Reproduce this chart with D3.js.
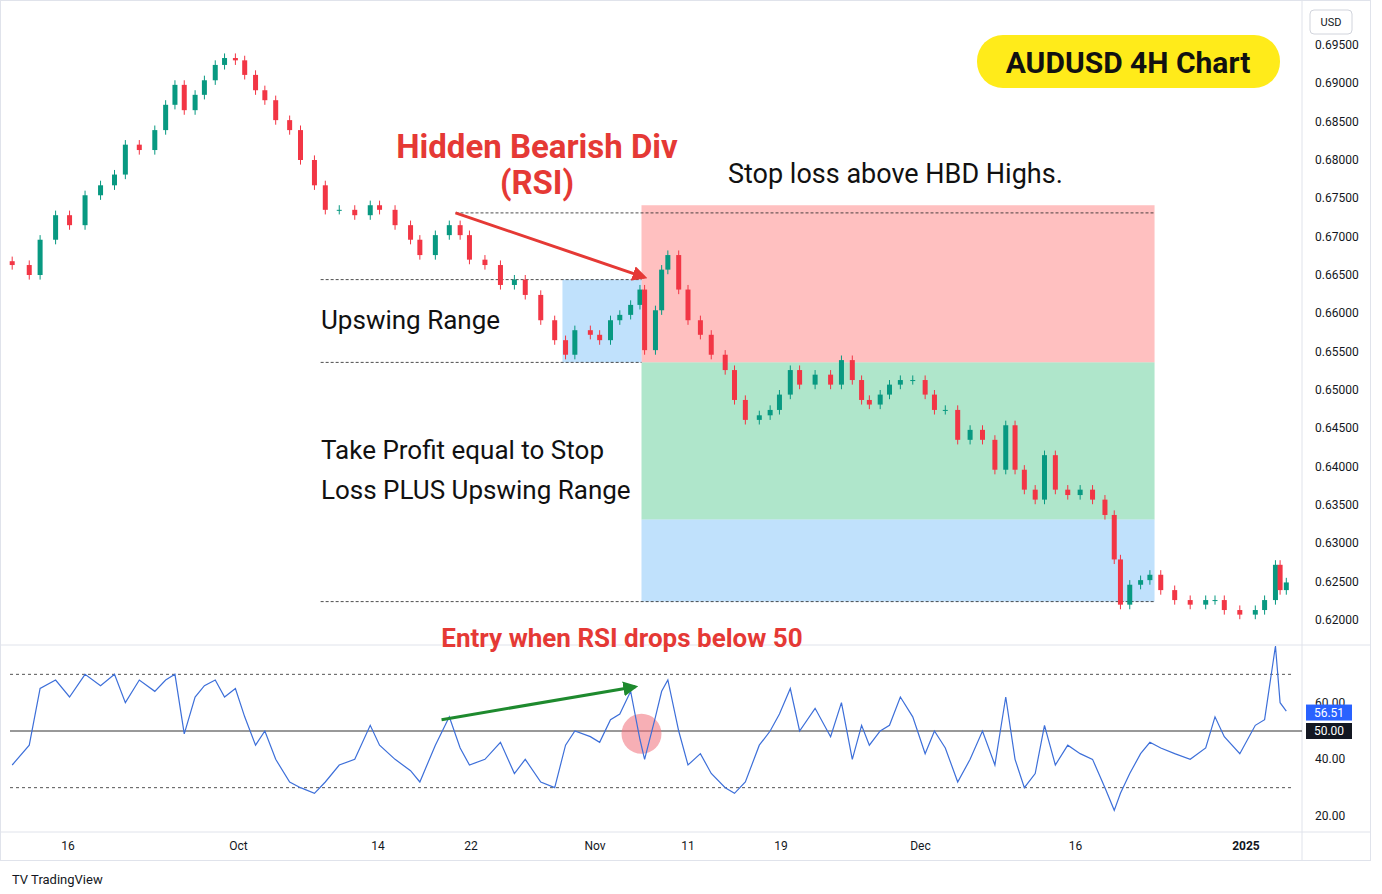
<!DOCTYPE html>
<html>
<head>
<meta charset="utf-8">
<script src="https://cdn.jsdelivr.net/npm/d3@7"></script>
<style>
  body { margin: 0; background: #fff; }
  svg { display: block; font-family: "Liberation Sans Narrow", "Roboto", "DejaVu Sans Condensed", sans-serif; }
</style>
</head>
<body>
<svg id="chart" width="1382" height="894"></svg>
<script>
// trading-day index (0 = Sep 16) of each sampled bar
const barDay = [
  -3.6, -2.5, -1.8, -0.8, 0.1, 1.1, 2.1, 3.0, 3.7, 4.6,
  5.6, 6.3, 6.9, 7.5, 8.2, 8.8, 9.5, 10.1, 10.8, 11.4,
  12.1, 12.7, 13.4, 14.3, 15.0, 15.9, 16.6, 17.5, 18.5, 19.5,
  20.1, 21.1, 22.1, 22.7, 23.7, 24.6, 25.3, 25.9, 26.9, 27.9,
  28.8, 29.5, 30.5, 31.4, 32.1, 32.7, 33.7, 34.3, 35.0, 35.6,
  36.3, 36.9, 37.2, 37.9, 38.3, 38.7, 39.4, 40.0, 40.8, 41.5,
  42.4, 43.0, 43.7, 44.6, 45.3, 45.9, 46.6, 47.2, 48.2, 49.2,
  49.9, 50.6, 51.2, 51.7, 52.4, 53.0, 53.7, 54.5, 55.3, 55.9,
  56.6, 57.4, 58.2, 59.0, 59.8, 60.5, 61.1, 61.7, 62.4, 63.0,
  63.7, 64.5, 65.3, 66.1, 66.9, 67.5, 67.9, 68.5, 69.2, 69.8,
  70.5, 71.4, 72.4, 73.4, 74.0, 74.6, 75.6, 76.6, 77.2, 77.9,
  78.2, 78.6
];
const closes = [
  0.6663, 0.6650, 0.6696, 0.6728, 0.6715, 0.6754, 0.6767, 0.6781, 0.6820, 0.6813,
  0.6839, 0.6872, 0.6898, 0.6865, 0.6885, 0.6904, 0.6924, 0.6933, 0.6930, 0.6911,
  0.6891, 0.6878, 0.6852, 0.6839, 0.6800, 0.6767, 0.6735, 0.6735, 0.6728, 0.6741,
  0.6735, 0.6715, 0.6696, 0.6676, 0.6702, 0.6715, 0.6702, 0.6670, 0.6663, 0.6637,
  0.6644, 0.6624, 0.6591, 0.6565, 0.6546, 0.6578, 0.6572, 0.6565, 0.6591, 0.6598,
  0.6611, 0.6631, 0.6552, 0.6604, 0.6657, 0.6676, 0.6631, 0.6591, 0.6572, 0.6546,
  0.6526, 0.6487, 0.6461, 0.6467, 0.6474, 0.6494, 0.6526, 0.6507, 0.6520, 0.6507,
  0.6539, 0.6513, 0.6487, 0.6481, 0.6494, 0.6507, 0.6513, 0.6513, 0.6494, 0.6474,
  0.6474, 0.6435, 0.6448, 0.6435, 0.6396, 0.6454, 0.6396, 0.6370, 0.6357, 0.6415,
  0.6370, 0.6363, 0.6370, 0.6357, 0.6337, 0.6279, 0.6220, 0.6246, 0.6252, 0.6259,
  0.6239, 0.6226, 0.6220, 0.6226, 0.6226, 0.6213, 0.6207, 0.6213, 0.6226, 0.6272,
  0.6239, 0.6249
];
const rsi = [
  38, 45, 65, 68, 62, 70, 66, 70, 60, 68,
  64, 68, 70, 49, 62, 66, 68, 62, 65, 55,
  45, 50, 40, 32, 30, 28, 32, 38, 40, 52,
  45, 40, 36, 32, 45, 55, 44, 38, 40, 46,
  35, 40, 32, 30, 45, 50, 48, 46, 54, 56,
  64, 47, 40, 55, 64, 68, 50, 38, 42, 35,
  30, 28, 32, 45, 50, 56, 65, 50, 58, 48,
  60, 40, 52, 45, 50, 52, 62, 55, 42, 50,
  44, 32, 40, 50, 38, 62, 40, 30, 35, 52,
  38, 45, 42, 40, 30, 22, 28, 35, 42, 46,
  44, 42, 40, 44, 55, 48, 42, 52, 54, 80,
  60, 57
];
const dateTicks = [0, 11, 20, 26, 34, 40, 46, 55, 65, 76];
const dateLabels = ["16", "Oct", "14", "22", "Nov", "11", "19", "Dec", "16", "2025"];
const priceTicks = [0.695, 0.690, 0.685, 0.680, 0.675, 0.670, 0.665, 0.660, 0.655, 0.650, 0.645, 0.640, 0.635, 0.630, 0.625, 0.620];
const rsiTicks = [60, 40, 20];

const svg = d3.select('#chart');
const W = 1382, H = 894;
const plotRight = 1302;

const x = d3.scaleLinear().domain([0, 10]).range([68, 223]);
const y = d3.scaleLinear().domain([0.620, 0.695]).range([620, 45]);
const yr = d3.scaleLinear().domain([20, 50]).range([816, 731]);

// frame
svg.append('rect').attr('x', 0.5).attr('y', 0.5).attr('width', W - 12).attr('height', 860)
  .attr('fill', 'none').attr('stroke', '#e0e3eb');
svg.append('line').attr('x1', plotRight).attr('x2', plotRight).attr('y1', 0).attr('y2', 860).attr('stroke', '#e0e3eb');
svg.append('line').attr('x1', 0).attr('x2', W - 12).attr('y1', 645).attr('y2', 645).attr('stroke', '#e0e3eb');
svg.append('line').attr('x1', 0).attr('x2', W - 12).attr('y1', 832).attr('y2', 832).attr('stroke', '#e0e3eb');

// trade zones
const zoneL = 37.0, zoneR = 70.1;
const zones = [
  { x0: zoneL, x1: zoneR, p0: 0.6741, p1: 0.6536, c: 'rgba(255,150,150,0.6)' },
  { x0: zoneL, x1: zoneR, p0: 0.6536, p1: 0.6331, c: 'rgba(110,210,160,0.55)' },
  { x0: zoneL, x1: zoneR, p0: 0.6331, p1: 0.6224, c: 'rgba(150,205,250,0.6)' },
  { x0: 31.9, x1: zoneL, p0: 0.6644, p1: 0.6536, c: 'rgba(150,205,250,0.6)' }
];
svg.append('g').selectAll('rect').data(zones).join('rect')
  .attr('x', d => x(d.x0)).attr('width', d => x(d.x1) - x(d.x0))
  .attr('y', d => y(d.p0)).attr('height', d => y(d.p1) - y(d.p0))
  .attr('fill', d => d.c);

const dashes = [
  { a: 25.0, b: zoneR, p: 0.6731 },
  { a: 16.3, b: zoneL, p: 0.6644 },
  { a: 16.3, b: zoneL, p: 0.6536 },
  { a: 16.3, b: zoneR, p: 0.6224 }
];
svg.append('g').selectAll('line').data(dashes).join('line')
  .attr('x1', d => x(d.a)).attr('x2', d => x(d.b))
  .attr('y1', d => y(d.p)).attr('y2', d => y(d.p))
  .attr('stroke', '#222').attr('stroke-width', 0.8).attr('stroke-dasharray', '3,2');

// candles
const bars = closes.map((c, i) => {
  const o = i === 0 ? c + 0.0005 : closes[i - 1];
  return { t: barDay[i], o, c, h: Math.max(o, c) + 0.0006, l: Math.min(o, c) - 0.0006 };
});
const cg = svg.append('g');
cg.selectAll('line').data(bars).join('line')
  .attr('x1', d => x(d.t)).attr('x2', d => x(d.t))
  .attr('y1', d => y(d.h)).attr('y2', d => y(d.l))
  .attr('stroke', d => d.c >= d.o ? '#089981' : '#f23645');
cg.selectAll('rect').data(bars).join('rect')
  .attr('x', d => x(d.t) - 2.5).attr('width', 5)
  .attr('y', d => y(Math.max(d.o, d.c)))
  .attr('height', d => Math.max(1, Math.abs(y(d.o) - y(d.c))))
  .attr('fill', d => d.c >= d.o ? '#089981' : '#f23645');

// arrows
const defs = svg.append('defs');
[['red', '#e53935'], ['green', '#1e8a2e']].forEach(([id, col]) => {
  defs.append('marker').attr('id', 'ah-' + id).attr('viewBox', '0 0 10 10')
    .attr('refX', 8).attr('refY', 5).attr('markerWidth', 5).attr('markerHeight', 5)
    .attr('orient', 'auto').append('path').attr('d', 'M0,0L10,5L0,10z').attr('fill', col);
});
svg.append('line').attr('x1', x(25.0)).attr('y1', y(0.6731)).attr('x2', x(37.2)).attr('y2', y(0.6647))
  .attr('stroke', '#e53935').attr('stroke-width', 3).attr('marker-end', 'url(#ah-red)');

// price axis
const pa = svg.append('g');
pa.selectAll('text').data(priceTicks).join('text')
  .attr('x', 1315).attr('y', d => y(d) + 4).text(d => d.toFixed(5))
  .attr('font-size', 12).attr('fill', '#131722').attr('font-family', 'Roboto, sans-serif');
svg.append('rect').attr('x', 1310).attr('y', 10).attr('width', 42).attr('height', 24).attr('rx', 4)
  .attr('fill', '#fff').attr('stroke', '#d1d4dc');
svg.append('text').attr('x', 1331).attr('y', 26).attr('text-anchor', 'middle').text('USD')
  .attr('font-size', 11).attr('font-family', 'Roboto, sans-serif').attr('fill', '#131722');

// RSI panel
[[70, '3,3'], [30, '3,3']].forEach(([v, da]) => {
  svg.append('line').attr('x1', 10).attr('x2', plotRight - 10).attr('y1', yr(v)).attr('y2', yr(v))
    .attr('stroke', '#555').attr('stroke-dasharray', da);
});
svg.append('line').attr('x1', 10).attr('x2', plotRight).attr('y1', yr(50)).attr('y2', yr(50))
  .attr('stroke', '#333').attr('stroke-width', 1);
svg.append('circle').attr('cx', x(37)).attr('cy', yr(49)).attr('r', 20)
  .attr('fill', 'rgba(240,110,120,0.55)');
svg.append('path').datum(rsi.map((v, i) => [barDay[i], v]))
  .attr('d', d3.line().x(d => x(d[0])).y(d => yr(d[1])))
  .attr('fill', 'none').attr('stroke', '#3d6fd9').attr('stroke-width', 1.2);
svg.append('line').attr('x1', x(24.1)).attr('y1', yr(54)).attr('x2', x(36.6)).attr('y2', yr(65.6))
  .attr('stroke', '#1e8a2e').attr('stroke-width', 3).attr('marker-end', 'url(#ah-green)');

svg.append('g').selectAll('text').data(rsiTicks).join('text')
  .attr('x', 1315).attr('y', d => yr(d) + 4).text(d => d.toFixed(2))
  .attr('font-size', 12).attr('fill', '#131722').attr('font-family', 'Roboto, sans-serif');
const lastRsi = rsi[rsi.length - 1] - 0.49;
svg.append('rect').attr('x', 1306).attr('y', yr(lastRsi) - 8).attr('width', 46).attr('height', 16).attr('fill', '#2962ff');
svg.append('text').attr('x', 1329).attr('y', yr(lastRsi) + 4).attr('text-anchor', 'middle').text(lastRsi.toFixed(2))
  .attr('font-size', 12).attr('fill', '#fff').attr('font-family', 'Roboto, sans-serif');
svg.append('rect').attr('x', 1306).attr('y', yr(50) - 8).attr('width', 46).attr('height', 16).attr('fill', '#131722');
svg.append('text').attr('x', 1329).attr('y', yr(50) + 4).attr('text-anchor', 'middle').text('50.00')
  .attr('font-size', 12).attr('fill', '#fff').attr('font-family', 'Roboto, sans-serif');

// date axis
svg.append('g').selectAll('text').data(dateTicks).join('text')
  .attr('x', d => x(d)).attr('y', 850).attr('text-anchor', 'middle')
  .text((d, i) => dateLabels[i])
  .attr('font-size', 12).attr('fill', '#131722').attr('font-family', 'Roboto, sans-serif')
  .attr('font-weight', (d, i) => dateLabels[i] === '2025' ? 'bold' : 'normal');

// annotations
const ann = svg.append('g');
ann.append('text').attr('x', 537).attr('y', 158).attr('text-anchor', 'middle')
  .text('Hidden Bearish Div').attr('font-size', 33).attr('font-weight', 'bold').attr('fill', '#e53935');
ann.append('text').attr('x', 537).attr('y', 194).attr('text-anchor', 'middle')
  .text('(RSI)').attr('font-size', 33).attr('font-weight', 'bold').attr('fill', '#e53935');
ann.append('text').attr('x', 728).attr('y', 183).text('Stop loss above HBD Highs.')
  .attr('font-size', 27).attr('fill', '#111');
ann.append('text').attr('x', 321).attr('y', 329).text('Upswing Range').attr('font-size', 26).attr('fill', '#111');
ann.append('text').attr('x', 321).attr('y', 459).text('Take Profit equal to Stop').attr('font-size', 26).attr('fill', '#111');
ann.append('text').attr('x', 321).attr('y', 499).text('Loss PLUS Upswing Range').attr('font-size', 26).attr('fill', '#111');
ann.append('text').attr('x', 622).attr('y', 647).attr('text-anchor', 'middle')
  .text('Entry when RSI drops below 50').attr('font-size', 26).attr('font-weight', 'bold').attr('fill', '#e53935');

svg.append('rect').attr('x', 977).attr('y', 35).attr('width', 303).attr('height', 53).attr('rx', 26)
  .attr('fill', '#ffeb1a');
svg.append('text').attr('x', 1128).attr('y', 73).attr('text-anchor', 'middle').text('AUDUSD 4H Chart')
  .attr('font-size', 30).attr('font-weight', 'bold').attr('fill', '#111').attr('font-family', 'Roboto, sans-serif');

svg.append('text').attr('x', 12).attr('y', 884).text('TV TradingView')
  .attr('font-size', 13).attr('fill', '#131722').attr('font-family', 'Roboto, sans-serif');
</script>
</body>
</html>
